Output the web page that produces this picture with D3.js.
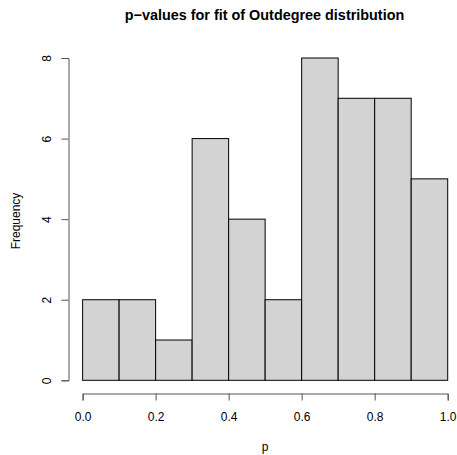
<!DOCTYPE html>
<html lang="en">
<head>
<meta charset="UTF-8">
<title>p-values histogram</title>
<script src="https://cdn.jsdelivr.net/npm/d3@7"></script>
<style>
  body { margin: 0; background: #fff; }
  text { font-family: "Liberation Sans", Arial, sans-serif; fill: #000; }
</style>
</head>
<body>
<div id="container"></div>
<script>
// bin edges and counts
const binEdges = [0, 0.1, 0.2, 0.3, 0.4, 0.5, 0.6, 0.7, 0.8, 0.9, 1.0];
const counts = [2, 2, 1, 6, 4, 2, 8, 7, 7, 5];
const xTicks = [0, 0.2, 0.4, 0.6, 0.8, 1.0];
const yTicks = [0, 2, 4, 6, 8];

const width = 457, height = 455;
const svg = d3.select("#container").append("svg")
    .attr("width", width).attr("height", height);

const x = d3.scaleLinear().domain([0, 1]).range([82.6, 447.7]);
const y = d3.scaleLinear().domain([0, 8]).range([380.3, 58]);

const bins = counts.map((c, i) => ({x0: binEdges[i], x1: binEdges[i + 1], n: c}));

// bars
svg.selectAll(".bar")
    .data(bins)
    .enter()
    .append("rect")
    .attr("x", d => x(d.x0))
    .attr("y", d => y(d.n))
    .attr("width", d => x(d.x1) - x(d.x0))
    .attr("height", d => y(0) - y(d.n))
    .attr("fill", "#d3d3d3")
    .attr("stroke", "#000")
    .attr("stroke-width", 1);

// x axis
const xAxis = svg.append("g")
    .attr("transform", `translate(0,393.5)`)
    .call(d3.axisBottom(x).tickValues(xTicks).tickFormat(d3.format(".1f")).tickSize(7).tickPadding(12));
xAxis.select(".domain").attr("stroke", "#555");
xAxis.selectAll(".tick line").attr("stroke", "#555");
xAxis.selectAll("text").attr("font-size", 12).style("font-family", "Liberation Sans, Arial, sans-serif");

// y axis
const yAxis = svg.append("g")
    .attr("transform", `translate(68.5,0)`)
    .call(d3.axisLeft(y).tickValues(yTicks).tickSize(7).tickPadding(0));
yAxis.select(".domain").attr("stroke", "#555");
yAxis.selectAll(".tick line").attr("stroke", "#555");
yAxis.selectAll(".tick text")
    .attr("font-size", 12)
    .style("font-family", "Liberation Sans, Arial, sans-serif")
    .attr("x", 0)
    .attr("dy", 0)
    .attr("text-anchor", "middle")
    .attr("transform", "translate(-22,0) rotate(-90)")
    .attr("y", 4);

// labels
svg.append("text")
    .attr("x", 264.5)
    .attr("y", 20)
    .attr("text-anchor", "middle")
    .attr("font-size", 14.4)
    .attr("font-weight", "bold")
    .text("p\u2212values for fit of Outdegree distribution");

svg.append("text")
    .attr("x", 265)
    .attr("y", 451)
    .attr("text-anchor", "middle")
    .attr("font-size", 12)
    .text("p");

svg.append("text")
    .attr("transform", `translate(19.5,221) rotate(-90)`)
    .attr("text-anchor", "middle")
    .attr("font-size", 12)
    .text("Frequency");
</script>
</body>
</html>
